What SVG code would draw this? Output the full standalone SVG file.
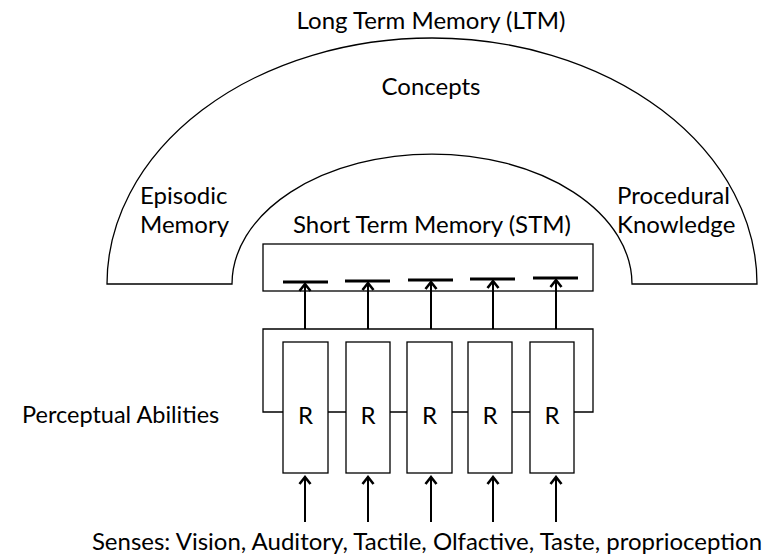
<svg xmlns="http://www.w3.org/2000/svg" width="773" height="559" viewBox="0 0 773 559">
<style>
text{font-family:Lato,"Open Sans","Liberation Sans",sans-serif;font-size:24px;fill:#000}
.box{fill:#fff;stroke:#000;stroke-width:1.3}
.ln{fill:none;stroke:#000;stroke-width:1.3}
.arr{fill:none;stroke:#000;stroke-width:2;marker-end:url(#ah)}
.dash{stroke:#000;stroke-width:3}
</style>
<defs>
<marker id="ah" markerUnits="userSpaceOnUse" markerWidth="16" markerHeight="16" viewBox="-12 -8 16 16" refX="0" refY="0" orient="auto">
<path d="M-7,-5.5 L0,0 L-7,5.5" fill="none" stroke="#000" stroke-width="2.6"/>
</marker>
</defs>
<rect width="773" height="559" fill="#fff"/>
<g id="ltm">
<path class="ln" d="M107,284 A325,246 0 0 1 757,284 L632,284 A200,130 0 0 0 232,284 Z"/>
<text x="431" y="29" text-anchor="middle">Long Term Memory (LTM)</text>
<text x="431" y="95" text-anchor="middle">Concepts</text>
<text x="140" y="204">Episodic</text>
<text x="140" y="233">Memory</text>
<text x="617" y="204">Procedural</text>
<text x="617" y="233">Knowledge</text>
</g>
<g id="stm">
<text x="432" y="233" text-anchor="middle">Short Term Memory (STM)</text>
<rect class="box" x="263" y="244" width="330" height="47"/>
<line class="dash" x1="283" y1="282" x2="328" y2="282"/>
<line class="dash" x1="345" y1="281" x2="390" y2="281"/>
<line class="dash" x1="408" y1="280" x2="453" y2="280"/>
<line class="dash" x1="470" y1="279" x2="515" y2="279"/>
<line class="dash" x1="533" y1="278" x2="578" y2="278"/>
</g>
<g id="perceptual">
<path class="ln" d="M263,412 L263,329 L593,329 L593,412 Z"/>
<text x="22" y="423" style="font-size:23.5px">Perceptual Abilities</text>
</g>
<g id="r1"><rect class="box" x="283" y="342" width="45" height="131"/><text x="305.5" y="424" text-anchor="middle">R</text></g>
<g id="r2"><rect class="box" x="346" y="342" width="44" height="131"/><text x="368" y="424" text-anchor="middle">R</text></g>
<g id="r3"><rect class="box" x="407" y="342" width="45" height="131"/><text x="429.5" y="424" text-anchor="middle">R</text></g>
<g id="r4"><rect class="box" x="468" y="342" width="44" height="131"/><text x="490" y="424" text-anchor="middle">R</text></g>
<g id="r5"><rect class="box" x="530" y="342" width="44" height="131"/><text x="552" y="424" text-anchor="middle">R</text></g>
<g id="connectors">
<line class="arr" x1="305" y1="329" x2="305" y2="284"/>
<line class="arr" x1="368" y1="329" x2="368" y2="283"/>
<line class="arr" x1="431" y1="329" x2="431" y2="282"/>
<line class="arr" x1="493" y1="329" x2="493" y2="281"/>
<line class="arr" x1="556" y1="329" x2="556" y2="280"/>
<line class="arr" x1="305" y1="522" x2="305" y2="477"/>
<line class="arr" x1="368" y1="522" x2="368" y2="477"/>
<line class="arr" x1="431" y1="522" x2="431" y2="477"/>
<line class="arr" x1="493" y1="522" x2="493" y2="477"/>
<line class="arr" x1="556" y1="522" x2="556" y2="477"/>
</g>
<g id="senses">
<text x="427" y="550" text-anchor="middle">Senses: Vision, Auditory, Tactile, Olfactive, Taste, proprioception</text>
</g>
</svg>
